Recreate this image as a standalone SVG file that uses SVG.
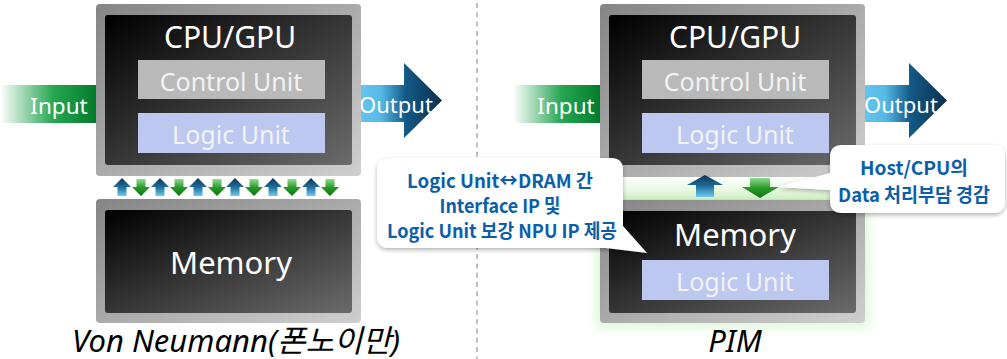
<svg xmlns="http://www.w3.org/2000/svg" width="1007" height="359" viewBox="0 0 1007 359">
<defs>
<linearGradient id="frame" x1="0" y1="0" x2="1" y2="1"><stop offset="0" stop-color="#858585"/><stop offset="1" stop-color="#cfcfcf"/></linearGradient>
<linearGradient id="core" x1="0" y1="0" x2="1" y2="1"><stop offset="0" stop-color="#000"/><stop offset="1" stop-color="#6b6b6b"/></linearGradient>
<linearGradient id="inG" x1="0" y1="0" x2="1" y2="0"><stop offset="0" stop-color="#0a9a3a" stop-opacity="0"/><stop offset="0.55" stop-color="#0f9c3f" stop-opacity="0.9"/><stop offset="1" stop-color="#007a2a"/></linearGradient>
<linearGradient id="outG" x1="0" y1="0" x2="1" y2="0"><stop offset="0" stop-color="#63c6ef"/><stop offset="0.25" stop-color="#55b8e6"/><stop offset="0.55" stop-color="#135a87"/><stop offset="1" stop-color="#0b2f4d"/></linearGradient>
<linearGradient id="upG" x1="0" y1="0" x2="0" y2="1"><stop offset="0" stop-color="#0c3554"/><stop offset="0.5" stop-color="#1f6c9a"/><stop offset="1" stop-color="#6ccaf2"/></linearGradient>
<linearGradient id="dnG" x1="0" y1="0" x2="0" y2="1"><stop offset="0" stop-color="#8edc8e"/><stop offset="0.5" stop-color="#2a9a2a"/><stop offset="1" stop-color="#0a7410"/></linearGradient>
<linearGradient id="band" x1="0" y1="0" x2="0" y2="1"><stop offset="0" stop-color="#ffffff"/><stop offset="0.6" stop-color="#e6f8e0"/><stop offset="0.9" stop-color="#cdeec3"/><stop offset="1" stop-color="#a9dd9a"/></linearGradient>
<filter id="glow" x="-10%" y="-10%" width="120%" height="120%"><feGaussianBlur stdDeviation="6"/></filter>
<filter id="shadow" x="-10%" y="-10%" width="120%" height="130%"><feDropShadow dx="0" dy="2" stdDeviation="2" flood-color="#000" flood-opacity="0.3"/></filter>
<path id="up" d="M0,-9 L9,0 L4.5,0 L4.5,9 L-4.5,9 L-4.5,0 L-9,0 Z"/>
<path id="dn" d="M-4.5,-8 L4.5,-8 L4.5,0 L9,0 L0,9 L-9,0 L-4.5,0 Z"/>
</defs>
<style>
.frame{fill:url(#frame)}
.core{fill:url(#core)}
.ctl{fill:#b9b9b9}
.lgc{fill:#bdc8f1}
.t{font-family:"Noto Sans","Noto Sans CJK KR",sans-serif;text-anchor:middle}
.w{fill:#ffffff}
.sub{fill:#f2f2f2}
.cap{font-family:"Noto Sans","Noto Sans CJK KR",sans-serif;font-style:italic;fill:#000;text-anchor:middle;font-size:31px}
.call{font-family:"Noto Sans CJK KR","Noto Sans",sans-serif;font-weight:bold;fill:#0b5ea9;text-anchor:middle;font-size:19px}
.bub{fill:#fff;filter:url(#shadow)}
</style>

<line x1="477" y1="3" x2="477" y2="359" stroke="#aaa" stroke-width="1.5" stroke-dasharray="5 4.3"/>

<!-- Von Neumann side -->
<g id="vn-input">
<rect x="0" y="85" width="97" height="38" fill="url(#inG)"/>
<text class="t w" x="59" y="114" font-size="22.5">Input</text>
</g>
<g id="vn-output">
<path d="M361,85 L404,85 L404,63 L442,100.5 L404,138 L404,122 L361,122 Z" fill="url(#outG)"/>
<text class="t w" x="396" y="113" font-size="22">Output</text>
</g>
<g id="vn-cpu">
<rect x="96" y="4" width="265" height="172" rx="4" class="frame"/>
<rect x="105" y="15" width="247" height="150" rx="3" class="core"/>
<text class="t w" x="230" y="48" font-size="30">CPU/GPU</text>
<rect x="138" y="60" width="187" height="39" class="ctl"/>
<text class="t sub" x="231" y="91" font-size="25">Control Unit</text>
<rect x="138" y="113" width="187" height="40" class="lgc"/>
<text class="t sub" x="231" y="144" font-size="25">Logic Unit</text>
</g>
<g id="vn-memory">
<rect x="96" y="199" width="265" height="124" rx="4" class="frame"/>
<rect x="105" y="210" width="247" height="103" rx="3" class="core"/>
<text class="t w" x="231" y="274" font-size="31">Memory</text>
</g>
<g id="vn-bus">
<use href="#up" x="122" y="187" fill="url(#upG)"/>
<use href="#dn" x="141" y="187" fill="url(#dnG)"/>
<use href="#up" x="160" y="187" fill="url(#upG)"/>
<use href="#dn" x="179" y="187" fill="url(#dnG)"/>
<use href="#up" x="198" y="187" fill="url(#upG)"/>
<use href="#dn" x="217" y="187" fill="url(#dnG)"/>
<use href="#up" x="235" y="187" fill="url(#upG)"/>
<use href="#dn" x="254" y="187" fill="url(#dnG)"/>
<use href="#up" x="273" y="187" fill="url(#upG)"/>
<use href="#dn" x="292" y="187" fill="url(#dnG)"/>
<use href="#up" x="311" y="187" fill="url(#upG)"/>
<use href="#dn" x="330" y="187" fill="url(#dnG)"/>
</g>
<text class="cap" x="236" y="352">Von Neumann(폰노이만)</text>

<!-- PIM side -->
<g id="pim-input">
<rect x="513" y="85" width="88" height="38" fill="url(#inG)"/>
<text class="t w" x="566" y="114" font-size="22.5">Input</text>
</g>
<g id="pim-output">
<path d="M865,85 L909,85 L909,63 L947,100.5 L909,138 L909,122 L865,122 Z" fill="url(#outG)"/>
<text class="t w" x="901" y="113" font-size="22">Output</text>
</g>
<g id="pim-glow">
<rect x="596" y="176" width="273" height="151" fill="#b8f0b0" opacity="0.5" filter="url(#glow)"/>
<rect x="600" y="176" width="265" height="25" fill="url(#band)"/>
</g>
<g id="pim-cpu">
<rect x="600" y="4" width="265" height="173" rx="4" class="frame"/>
<rect x="609" y="15" width="247" height="150" rx="3" class="core"/>
<text class="t w" x="735" y="48" font-size="30">CPU/GPU</text>
<rect x="642" y="60" width="187" height="39" class="ctl"/>
<text class="t sub" x="735" y="91" font-size="25">Control Unit</text>
<rect x="642" y="113" width="187" height="40" class="lgc"/>
<text class="t sub" x="735" y="144" font-size="25">Logic Unit</text>
</g>
<g id="pim-memory">
<rect x="600" y="200" width="265" height="123" rx="4" class="frame"/>
<rect x="609" y="211" width="247" height="102" rx="3" class="core"/>
<text class="t w" x="735" y="246" font-size="31">Memory</text>
<rect x="642" y="260" width="187" height="40" class="lgc"/>
<text class="t sub" x="735" y="291" font-size="25">Logic Unit</text>
</g>
<g id="pim-bus">
<path d="M705,175 L723,185 L714,185 L714,197 L696,197 L696,185 L687,185 Z" fill="url(#upG)"/>
<path d="M750,178 L770,178 L770,187 L779,187 L760,198 L742,187 L750,187 Z" fill="url(#dnG)"/>
</g>
<text class="cap" x="735" y="352">PIM</text>

<!-- callouts -->
<g id="callout-left">
<path class="bub" d="M389,158 L611,158 Q623,158 623,170 L623,226 L647,253 L606,248 L389,248 Q377,248 377,236 L377,170 Q377,158 389,158 Z"/>
<text class="call" x="500" y="188" textLength="186" lengthAdjust="spacingAndGlyphs">Logic Unit↔DRAM 간</text>
<text class="call" x="500" y="213" textLength="121" lengthAdjust="spacingAndGlyphs">Interface IP 및</text>
<text class="call" x="502" y="238" textLength="230" lengthAdjust="spacingAndGlyphs">Logic Unit 보강 NPU IP 제공</text>
</g>
<g id="callout-right">
<path class="bub" d="M842,145 L993,145 Q1005,145 1005,157 L1005,201 Q1005,213 993,213 L842,213 Q830,213 830,201 L830,190 L777,187 L830,173 L830,157 Q830,145 842,145 Z"/>
<text class="call" x="914" y="175" textLength="108" lengthAdjust="spacingAndGlyphs">Host/CPU의</text>
<text class="call" x="914" y="202" textLength="152" lengthAdjust="spacingAndGlyphs">Data 처리부담 경감</text>
</g>
</svg>
